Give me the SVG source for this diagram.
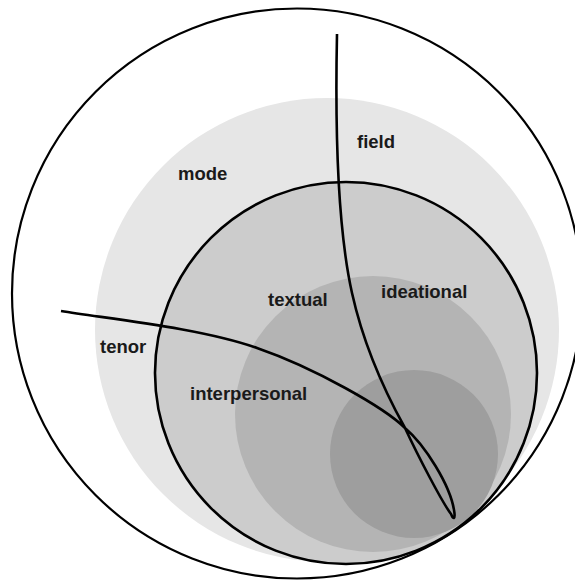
<svg xmlns="http://www.w3.org/2000/svg" width="575" height="581" viewBox="0 0 575 581">
<style>
.lbl{font-family:"Liberation Sans",Arial,sans-serif;font-weight:bold;font-size:18.5px;fill:#1a1a1a}
.ln{fill:none;stroke:#000;stroke-width:2.6;stroke-linejoin:round;stroke-linecap:butt}
</style>
<rect width="575" height="581" fill="#fff"/>
<g id="outer"><circle cx="297" cy="293.5" r="285" fill="#fff" stroke="#000" stroke-width="2.2"/></g>
<g id="context"><circle cx="327" cy="330" r="232" fill="#e6e6e6"/></g>
<g id="metafunctions"><circle cx="346" cy="373" r="191" fill="#cccccc"/></g>
<g id="level3"><circle cx="373" cy="414" r="138" fill="#b4b4b4"/></g>
<g id="level4"><circle cx="414" cy="454" r="84" fill="#9e9e9e"/></g>
<g id="ring"><circle cx="346" cy="373" r="191" fill="none" stroke="#000" stroke-width="2.6"/></g>
<g id="connectors">
<path class="ln" d="M337,34 C335,130 338,230 352,293 C362,338 380,383 405,428 C418,456 442,502 451,514 C453,519 456,521 454,510 C450,485 425,445 405,428 C385,408 315,368 257,348 C200,328 110,319 61,311"/>
</g>
<g id="labels">
<text class="lbl" x="357" y="148">field</text>
<text class="lbl" x="178" y="180">mode</text>
<text class="lbl" x="268" y="306">textual</text>
<text class="lbl" x="381" y="298">ideational</text>
<text class="lbl" x="100" y="353">tenor</text>
<text class="lbl" x="190" y="400">interpersonal</text>
</g>
</svg>
